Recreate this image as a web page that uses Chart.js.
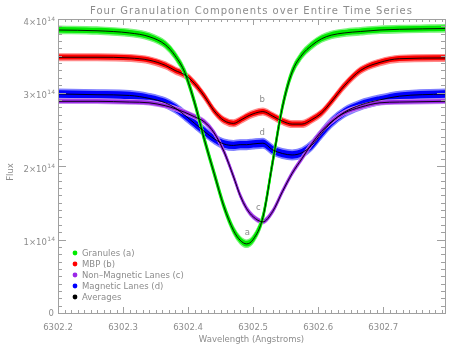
<!DOCTYPE html>
<html>
<head>
<meta charset="utf-8">
<script src="https://cdn.jsdelivr.net/npm/chart.js@4.4.1/dist/chart.umd.min.js"></script>
<style>
  html, body { margin: 0; background: #fff; }
  #wrap { width: 463px; height: 353px; position: relative; }
</style>
</head>
<body>
<div id="wrap"><canvas id="c"></canvas></div>
<script>
// Four granulation components, Fe I 6302.5 line profile (flux in units of 1e14)
var wavelength = [6302.200, 6302.260, 6302.310, 6302.340, 6302.365, 6302.380, 6302.395, 6302.410,
  6302.425, 6302.440, 6302.455, 6302.470, 6302.480, 6302.490, 6302.500, 6302.515, 6302.530,
  6302.545, 6302.560, 6302.575, 6302.590, 6302.605, 6302.620, 6302.640, 6302.665, 6302.695,
  6302.725, 6302.795];
var granules = [3.85, 3.84, 3.81, 3.76, 3.65, 3.50, 3.27, 2.86, 2.36, 1.90, 1.45, 1.12, 0.99, 0.94,
  1.00, 1.30, 2.05, 2.80, 3.28, 3.51, 3.64, 3.73, 3.78, 3.81, 3.83, 3.85, 3.86, 3.87];
var mbp = [3.48, 3.48, 3.47, 3.44, 3.37, 3.30, 3.24, 3.12, 2.95, 2.75, 2.62, 2.58, 2.62, 2.67,
  2.71, 2.74, 2.68, 2.61, 2.57, 2.57, 2.63, 2.72, 2.87, 3.09, 3.30, 3.41, 3.46, 3.47];
var nonMagLanes = [2.88, 2.88, 2.87, 2.86, 2.82, 2.78, 2.73, 2.67, 2.60, 2.45, 2.20, 1.85, 1.60, 1.42,
  1.31, 1.24, 1.38, 1.65, 1.90, 2.10, 2.30, 2.47, 2.60, 2.72, 2.80, 2.86, 2.87, 2.88];
var magLanes = [2.98, 2.97, 2.96, 2.92, 2.86, 2.79, 2.69, 2.58, 2.47, 2.37, 2.30, 2.28, 2.29, 2.29,
  2.30, 2.31, 2.22, 2.17, 2.15, 2.18, 2.28, 2.44, 2.59, 2.73, 2.83, 2.90, 2.95, 2.98];

var seriesNames = ['Granules (a)', 'MBP (b)', 'Non\u2013Magnetic Lanes (c)', 'Magnetic Lanes (d)'];
var xTicks = [6302.2, 6302.3, 6302.4, 6302.5, 6302.6, 6302.7];
var yTicks = [0, 1, 2, 3, 4];
var curveTags = ['a', 'b', 'c', 'd'];
var tagWave = [6302.491, 6302.514, 6302.508, 6302.514];
var tagFlux = [1.09, 2.90, 1.43, 2.45];

var TITLE = 'Four Granulation Components over Entire Time Series';
var X_TITLE = 'Wavelength (Angstroms)';
var Y_TITLE = 'Flux';
var GREY = '#8c8c8c';
var FONT = '"DejaVu Sans", sans-serif';

function pts(arr) {
  return wavelength.map(function (w, i) { return { x: w, y: arr[i] }; });
}

// layer: lower = drawn on top; h = vertical band height in px
var comps = [
  { data: granules,    core: '#00eb00', edge: '#7ef47e', h: 9,  layer: 1 },
  { data: mbp,         core: '#ff0000', edge: '#ff8a8a', h: 8,  layer: 5 },
  { data: nonMagLanes, core: '#9b28e8', edge: '#c58cf0', h: 6,  layer: 3 },
  { data: magLanes,    core: '#0000ff', edge: '#8080ff', h: 11, layer: 7 }
];

var datasets = [];
comps.forEach(function (c, i) {
  var base = { data: pts(c.data), pointRadius: 0, clip: 0, cubicInterpolationMode: 'monotone',
    borderWidth: 1.4 };
  datasets.push(Object.assign({}, base, { label: seriesNames[i] + ' spread', order: c.layer + 1,
    borderColor: c.edge, spread: c.h }));
  datasets.push(Object.assign({}, base, { label: seriesNames[i], order: c.layer,
    borderColor: c.core, spread: c.h * 0.68 }));
  datasets.push(Object.assign({}, base, { label: seriesNames[i] + ' average', order: 0,
    borderColor: '#000', borderWidth: 0.9 }));
});

// the spread of all frames: same curve re-stroked with small vertical shifts
var bands = {
  id: 'bands',
  beforeDatasetDraw: function (chart, args) {
    var ds = chart.data.datasets[args.index];
    if (!ds.spread) return;
    var ctx = chart.ctx, a = chart.chartArea, line = args.meta.dataset;
    var half = (ds.spread - ds.borderWidth) / 2;
    ctx.save();
    ctx.beginPath();
    ctx.rect(a.left, a.top, a.right - a.left, a.bottom - a.top);
    ctx.clip();
    for (var off = -half; off <= half + 1e-6; off += 0.6) {
      ctx.save();
      ctx.translate(0, off);
      line.draw(ctx, a);
      ctx.restore();
    }
    ctx.restore();
    return false;
  }
};

var frame = {
  id: 'frame',
  afterDatasetsDraw: function (chart) {
    var ctx = chart.ctx, a = chart.chartArea, sx = chart.scales.x, sy = chart.scales.y;
    ctx.save();
    ctx.strokeStyle = '#a0a0a0';
    ctx.lineWidth = 1;
    ctx.strokeRect(Math.round(a.left) + 0.5, Math.round(a.top) + 0.5,
      Math.round(a.right - a.left), Math.round(a.bottom - a.top));

    // x ticks, minor every 0.01
    ctx.beginPath();
    for (var i = 0; i * 0.01 + xTicks[0] <= sx.max + 1e-9; i++) {
      var px = Math.round(sx.getPixelForValue(xTicks[0] + i * 0.01)) + 0.5;
      var len = i % 10 === 0 ? 6 : 3;
      ctx.moveTo(px, a.bottom); ctx.lineTo(px, a.bottom - len);
      ctx.moveTo(px, a.top); ctx.lineTo(px, a.top + len);
    }
    // y ticks, minor every 0.1
    for (var j = 0; j <= 40; j++) {
      var py = Math.round(sy.getPixelForValue(j / 10)) + 0.5;
      var ylen = j % 10 === 0 ? 8 : 4;
      ctx.moveTo(a.left, py); ctx.lineTo(a.left + ylen, py);
      ctx.moveTo(a.right, py); ctx.lineTo(a.right - ylen, py);
    }
    ctx.stroke();

    ctx.fillStyle = GREY;
    // x labels
    ctx.font = '8.5px ' + FONT;
    ctx.textAlign = 'center';
    ctx.textBaseline = 'alphabetic';
    xTicks.forEach(function (v) {
      ctx.fillText(v.toFixed(1), sx.getPixelForValue(v), a.bottom + 17);
    });
    // y labels n×10^14
    yTicks.forEach(function (v) {
      var py = sy.getPixelForValue(v);
      ctx.textAlign = 'right';
      if (v === 0) {
        ctx.font = '8.5px ' + FONT;
        ctx.fillText('0', a.left - 4, py + 3);
        return;
      }
      ctx.font = '6px ' + FONT;
      ctx.fillText('14', a.left - 3, py + 1.5);
      var supW = ctx.measureText('14').width;
      ctx.font = '8.5px ' + FONT;
      ctx.fillText(v + '\u00d710', a.left - 3.5 - supW, py + 5.5);
    });

    // axis titles
    ctx.textAlign = 'center';
    ctx.font = '8.5px ' + FONT;
    ctx.fillText(X_TITLE, (a.left + a.right) / 2, a.bottom + 29);
    ctx.save();
    ctx.translate(13, (a.top + a.bottom) / 2 + 6);
    ctx.rotate(-Math.PI / 2);
    ctx.fillText(Y_TITLE, 0, 0);
    ctx.restore();

    // title, stretched to the wide plot lettering
    ctx.font = '10px ' + FONT;
    var tw = ctx.measureText(TITLE).width;
    ctx.letterSpacing = Math.max(0, (322 - tw) / (TITLE.length - 1)) + 'px';
    ctx.fillText(TITLE, (a.left + a.right) / 2, 13.5);
    ctx.letterSpacing = '0px';

    // curve tags
    ctx.font = '8.5px ' + FONT;
    ctx.textBaseline = 'middle';
    curveTags.forEach(function (t, k) {
      ctx.fillText(t, sx.getPixelForValue(tagWave[k]), sy.getPixelForValue(tagFlux[k]));
    });

    // legend
    var names = seriesNames.concat(['Averages']);
    var dots = comps.map(function (c) { return c.core; }).concat(['#000']);
    ctx.textAlign = 'left';
    names.forEach(function (n, k) {
      var ly = a.bottom - 60 + k * 11;
      ctx.fillStyle = dots[k];
      ctx.beginPath();
      ctx.arc(a.left + 17, ly, 2.4, 0, Math.PI * 2);
      ctx.fill();
      ctx.fillStyle = GREY;
      ctx.fillText(n, a.left + 24, ly + 0.5);
    });
    ctx.restore();
  }
};

new Chart(document.getElementById('c'), {
  type: 'line',
  data: { datasets: datasets },
  options: {
    responsive: true,
    maintainAspectRatio: false,
    animation: false,
    layout: { padding: { left: 58, right: 18, top: 19, bottom: 40 } },
    scales: {
      x: { type: 'linear', min: 6302.2, max: 6302.795, display: false },
      y: { type: 'linear', min: 0, max: 4, display: false }
    },
    plugins: { legend: { display: false }, tooltip: { enabled: false } }
  },
  plugins: [bands, frame]
});
</script>
</body>
</html>
